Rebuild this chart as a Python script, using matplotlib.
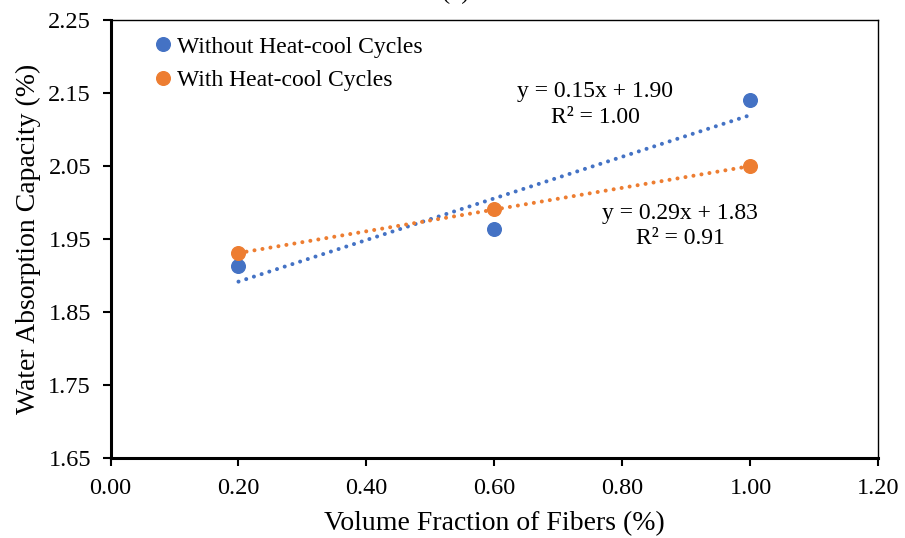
import matplotlib.pyplot as plt
import numpy as np

plt.rcParams['font.family'] = ['Liberation Serif', 'DejaVu Serif']

# volume fraction of fibers (%)
fractions = [0.2, 0.6, 1.0]
without_cycles = [1.913, 1.964, 2.141]
with_cycles = [1.931, 1.991, 2.050]

series_names = ["Without Heat-cool Cycles", "With Heat-cool Cycles"]
trend_labels = ["y = 0.15x + 1.90\nR\u00b2 = 1.00", "y = 0.29x + 1.83\nR\u00b2 = 0.91"]

x_ticks = [0.0, 0.2, 0.4, 0.6, 0.8, 1.0, 1.2]
y_ticks = [1.65, 1.75, 1.85, 1.95, 2.05, 2.15, 2.25]

blue = "#4472C4"
orange = "#ED7D31"


def main():
    fig = plt.figure(figsize=(9.05, 5.38), dpi=100)
    ax = fig.add_axes([0.1221, 0.1478, 0.8486, 0.815])

    xs = np.array(fractions)
    for ys, col, name in [(without_cycles, blue, series_names[0]),
                          (with_cycles, orange, series_names[1])]:
        ax.plot(xs, ys, 'o', color=col, ms=9.8, label=name, zorder=3)
        # linear trendline as in excel
        k, b = np.polyfit(xs, ys, 1)
        ax.plot(xs, k * xs + b, color=col, lw=2.9, dash_capstyle='round',
                linestyle=(0, (0.01, 2.0)), zorder=2)

    ax.text(0.757, 2.134, trend_labels[0], ha='center', va='center',
            fontsize=17, linespacing=1.32)
    ax.text(0.890, 1.968, trend_labels[1], ha='center', va='center',
            fontsize=17, linespacing=1.2)

    ax.set_xlim(0, 1.2)
    ax.set_ylim(1.65, 2.25)
    ax.set_xticks(x_ticks)
    ax.set_yticks(y_ticks)
    ax.set_xticklabels([f"{v:.2f}" for v in x_ticks])
    ax.set_yticklabels([f"{v:.2f}" for v in y_ticks])
    ax.tick_params(labelsize=17.5, length=6, width=1.5, direction='out', color='black')
    ax.tick_params(axis='x', pad=8)
    ax.tick_params(axis='y', pad=8)

    for s in ['left', 'bottom']:
        ax.spines[s].set_linewidth(2.2)
    for s in ['top', 'right']:
        ax.spines[s].set_linewidth(1.0)

    ax.set_xlabel("Volume Fraction of Fibers (%)", fontsize=20, labelpad=9)
    ax.set_ylabel("Water Absorption Capacity (%)", fontsize=20, labelpad=5)

    ax.legend(loc='upper left', bbox_to_anchor=(0.037, 0.985), frameon=False,
              fontsize=17, handletextpad=0.0, handlelength=1.2, labelspacing=0.5,
              borderaxespad=0)

    # panel title, cut by the top of the image
    fig.text(0.504, 1.002, "(b)", ha='center', va='baseline', fontsize=17.5)

    plt.savefig("out.png", dpi=100)


if __name__ == '__main__':
    main()
